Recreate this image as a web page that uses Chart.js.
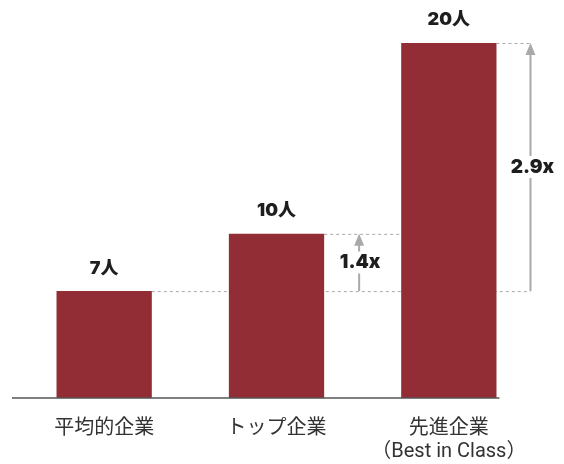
<!DOCTYPE html>
<html>
<head>
<meta charset="utf-8">
<script src="https://cdn.jsdelivr.net/npm/chart.js@4"></script>
<style>
    html, body { margin: 0; padding: 0; background: #fff; }
    #wrap { width: 564px; height: 464px; }
</style>
</head>
<body>
<div id="wrap"><canvas id="chart" width="564" height="464"></canvas></div>
<script>
// Chart data
const categories = [['平均的企業'], ['トップ企業'], ['先進企業', '（Best in Class）']];
const headcounts = [7, 10, 20];
const valueLabels = ['7人', '10人', '20人'];
const ratioLabels = ['1.4x', '2.9x'];

const barColor = '#922d36';
const guideColor = '#a9a9a9';
const labelFont = '900 18px Inter, "Noto Sans CJK JP", sans-serif';
const ratioFont = '900 19px Inter, "Noto Sans CJK JP", sans-serif';

// Value labels above each bar
const valueLabelPlugin = {
    id: 'valueLabels',
    afterDatasetsDraw(chart) {
        const ctx = chart.ctx;
        const bars = chart.getDatasetMeta(0).data;
        ctx.save();
        ctx.fillStyle = '#1e1e1e';
        ctx.font = labelFont;
        ctx.textAlign = 'center';
        ctx.textBaseline = 'middle';
        bars.forEach((bar, i) => {
            ctx.fillText(valueLabels[i], bar.x, bar.y - 23);
        });
        ctx.restore();
    }
};

// Draw a vertical arrow with a gap for its label
function drawRatioArrow(ctx, x, yFrom, yTo, text, textX) {
    const midY = (yFrom + yTo) / 2;
    const gap = 11;
    ctx.strokeStyle = guideColor;
    ctx.lineWidth = 2;
    ctx.setLineDash([]);
    ctx.beginPath();
    ctx.moveTo(x, yFrom);
    ctx.lineTo(x, midY + gap);
    ctx.moveTo(x, midY - gap);
    ctx.lineTo(x, yTo + 10);
    ctx.stroke();

    // arrow head
    ctx.fillStyle = guideColor;
    ctx.beginPath();
    ctx.moveTo(x, yTo);
    ctx.lineTo(x - 5, yTo + 12);
    ctx.lineTo(x + 5, yTo + 12);
    ctx.closePath();
    ctx.fill();

    ctx.fillStyle = '#1e1e1e';
    ctx.font = ratioFont;
    ctx.textAlign = 'center';
    ctx.textBaseline = 'middle';
    ctx.fillText(text, textX, midY);
}

// Dashed guides (behind the bars), arrows and baseline (on top)
const guidePlugin = {
    id: 'guides',
    beforeDatasetsDraw(chart) {
        const ctx = chart.ctx;
        const y = chart.scales.y;
        const bars = chart.getDatasetMeta(0).data;
        const half = bars[0].width / 2;

        const y0 = y.getPixelForValue(headcounts[0]);
        const y1 = y.getPixelForValue(headcounts[1]);
        const y2 = y.getPixelForValue(headcounts[2]);
        const arrow2X = bars[2].x + half + 34;

        ctx.save();
        ctx.strokeStyle = guideColor;
        ctx.lineWidth = 1;
        ctx.setLineDash([3, 3]);
        ctx.beginPath();
        ctx.moveTo(bars[0].x + half, y0 + 0.5);
        ctx.lineTo(arrow2X, y0 + 0.5);
        ctx.moveTo(bars[1].x + half, y1 + 0.5);
        ctx.lineTo(bars[2].x - half, y1 + 0.5);
        ctx.moveTo(bars[2].x + half, y2 + 0.5);
        ctx.lineTo(arrow2X + 2, y2 + 0.5);
        ctx.stroke();
        ctx.restore();
    },
    afterDatasetsDraw(chart) {
        const ctx = chart.ctx;
        const y = chart.scales.y;
        const bars = chart.getDatasetMeta(0).data;
        const half = bars[0].width / 2;

        const y0 = y.getPixelForValue(headcounts[0]);
        const y1 = y.getPixelForValue(headcounts[1]);
        const y2 = y.getPixelForValue(headcounts[2]);
        const arrow1X = bars[1].x + half + 35;
        const arrow2X = bars[2].x + half + 34;

        ctx.save();
        drawRatioArrow(ctx, arrow1X, y0, y1, ratioLabels[0], arrow1X + 1);
        drawRatioArrow(ctx, arrow2X, y0, y2, ratioLabels[1], arrow2X + 2);

        // baseline
        ctx.strokeStyle = '#555';
        ctx.lineWidth = 1.5;
        const base = y.getPixelForValue(y.min);
        ctx.beginPath();
        ctx.moveTo(12, base);
        ctx.lineTo(bars[2].x + half + 3, base);
        ctx.stroke();
        ctx.restore();
    }
};

const chart = new Chart(document.getElementById('chart').getContext('2d'), {
    type: 'bar',
    data: {
        labels: categories,
        datasets: [{
            data: headcounts,
            backgroundColor: barColor,
            barPercentage: 0.553,
            categoryPercentage: 1
        }]
    },
    options: {
        responsive: false,
        animation: false,
        devicePixelRatio: 1,
        layout: {
            padding: { top: 43, left: 18, right: 29, bottom: 0 }
        },
        plugins: {
            legend: { display: false },
            tooltip: { enabled: false }
        },
        scales: {
            x: {
                grid: { display: false, drawTicks: false },
                border: { display: false },
                ticks: {
                    color: '#333',
                    padding: 19,
                    font: { family: 'Roboto, "Noto Sans CJK JP", sans-serif', size: 20, lineHeight: 1.15 }
                },
                afterFit(scale) { scale.height = 66; }
            },
            y: {
                display: false,
                min: 1.4,
                max: 20
            }
        }
    },
    plugins: [valueLabelPlugin, guidePlugin]
});
</script>
</body>
</html>
